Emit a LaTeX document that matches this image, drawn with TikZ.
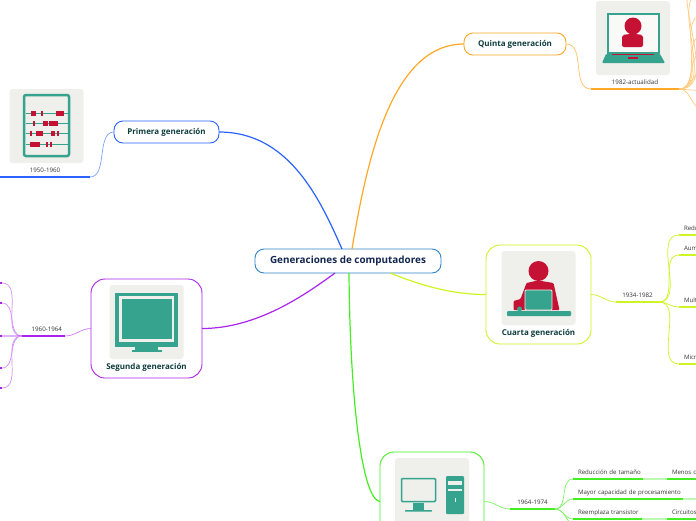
\documentclass[tikz,border=0pt]{standalone}
\usepackage{xcolor}
\usepackage{fontspec}
\setmainfont{Open Sans}
\usepackage{tikz}
\usetikzlibrary{positioning, calc}
\definecolor{azul}{HTML}{2962FF}
\definecolor{morado}{HTML}{AA22EE}
\definecolor{naranja}{HTML}{FFA726}
\definecolor{lima}{HTML}{CCF522}
\definecolor{verde}{HTML}{44EE22}
\definecolor{borde}{HTML}{2F86C8}
\definecolor{textoraiz}{HTML}{12264F}
\definecolor{textogen}{HTML}{0F3D3E}
\definecolor{fondo}{HTML}{EFEFEB}
\definecolor{teal}{HTML}{35A38D}
\definecolor{rojo}{HTML}{C41134}
\tikzstyle{raizbox} = [rectangle, rounded corners=9pt, minimum width=186pt, minimum height=24pt, outer sep=0pt, draw=borde, line width=0.9pt, fill=white, text=textoraiz, font=\fontsize{9.9}{11}\selectfont\bfseries]
\tikzstyle{generacion} = [rectangle, rounded corners=9pt, minimum height=22pt, outer sep=0pt, line width=0.9pt, fill=white, text=textogen, font=\fontsize{8}{9}\selectfont\bfseries]
\tikzstyle{grande} = [generacion, rounded corners=14pt, minimum width=105pt, minimum height=99pt]
\tikzstyle{titulo} = [text=textogen, inner sep=0pt, font=\fontsize{8}{9}\selectfont\bfseries]
\tikzstyle{tile} = [rectangle, rounded corners=3pt, minimum size=74pt, inner sep=0pt, outer sep=0pt, fill=fondo]
\tikzstyle{fecha} = [inner xsep=0pt, inner ysep=0pt, minimum height=12pt, text depth=2pt, outer sep=0pt, text=black!80, font=\fontsize{6.2}{7}\selectfont]
\tikzstyle{tema} = [anchor=south west, inner xsep=5pt, inner ysep=0pt, minimum height=12pt, text depth=2pt, outer sep=0pt, align=left, text=black!80, font=\fontsize{6.1}{7}\selectfont]
\tikzstyle{rama} = [line width=1.2pt]
\tikzstyle{hilo} = [line width=0.7pt]
\tikzstyle{raya} = [line width=1.5pt]
\tikzstyle{palida} = [line width=1.5pt, opacity=0.35]
\hbadness=10000
\hfuzz=100pt

\begin{document}
\begin{tikzpicture}[x=1pt, y=-1pt]
    \clip (0,0) rectangle (696,520);

    % Nodos principales
    \node (raiz) [raizbox] at (348,261) {Generaciones de computadores};
    \node (primera) [generacion, draw=azul, minimum width=105pt] at (166.5,132) {Primera generación};
    \node (quinta) [generacion, draw=naranja, minimum width=102pt] at (515,44) {Quinta generación};
    \node (segunda) [grande, draw=morado, minimum width=111pt] at (146.5,328.5) {};
    \node (cuarta) [grande, draw=lima] at (538.5,294.5) {};
    \node (tercera) [grande, draw=verde, minimum width=104pt] at (432,501.5) {};

    % Imagenes
    \node (imgprimera) [tile] at (46.5,126) {};
    \node (imgsegunda) [tile, below=6pt of segunda.north] {};
    \node (imgquinta) [tile] at (633,38) {};
    \node (imgcuarta) [tile, below=6pt of cuarta.north] {};
    \node (imgtercera) [tile, below=6pt of tercera.north] {};
    \node (titsegunda) [titulo, below=4.5pt of imgsegunda] {Segunda generación};
    \node (titcuarta) [titulo, below=4.5pt of imgcuarta] {Cuarta generación};

    % Abaco
    \begin{scope}[shift={(imgprimera.center)}]
        \draw [teal, line width=2.5pt, rounded corners=2pt] (-22.5,-31) rectangle (22.5,30);
        \foreach \y in {-13,-3,7,18}
            \draw [teal, line width=1pt] (-21,\y) -- (21,\y);
        \foreach \y/\a/\b in {-13/-15.5/-10.5, -13/-5.5/-3.5, -13/9.5/17.5, -3/-13.5/-11.5, -3/-3.5/1.5, -3/2.5/11.5, 7/-16.5/-14.5, 7/-10.5/-3.5, 7/4.5/8.5, 7/10.5/12.5, 18/-16.5/-6.5, 18/-0.5/1.5, 18/3.5/5.5}
            \fill [rojo] (\a,\y-2.5) rectangle (\b,\y+2.5);
    \end{scope}

    % Monitor
    \begin{scope}[shift={(imgsegunda.center)}]
        \fill [teal] (-31.5,-29) rectangle (31.5,25);
        \fill [fondo] (-27.5,-26) rectangle (27.5,20);
        \fill [teal] (-24.5,-23) rectangle (25.5,17);
        \fill [teal] (-11.5,25) rectangle (11.5,28);
        \fill [teal] (-14.5,28) rectangle (15.5,30);
    \end{scope}

    % Portatil con persona
    \begin{scope}[shift={(imgquinta.center)}]
        \draw [teal, line width=2pt, fill=white!60!fondo] (-25,-24) rectangle (26,15);
        \fill [rojo] (0,-12) circle (8.5);
        \fill [rojo, rounded corners=2pt] (-11,9) -- (-11,-3) -- (-3,-4) -- (3,-4) -- (10,-3) -- (10,9) -- cycle;
        \fill [teal, rounded corners=1pt] (-27,16) -- (27,16) -- (32,25) -- (-31,25) -- cycle;
        \fill [rojo] (-21,15.5) rectangle (21,17);
        \fill [rojo] (-5,19) rectangle (5,20.5);
    \end{scope}

    % Persona en escritorio
    \begin{scope}[shift={(imgcuarta.center)}]
        \fill [rojo] (0,-17) circle (10);
        \fill [rojo, rounded corners=1pt] (-12,-5) -- (-3,-7) -- (3,-7) -- (15,-5) -- (21,22) -- (-25,22) -- (-25,13) -- (-18,11) -- cycle;
        \draw [fondo, line width=0.8pt, fill=teal, rounded corners=1pt] (-13.5,2) rectangle (13.5,22);
        \fill [teal] (-19,21) circle (2.5);
        \fill [teal, rounded corners=1pt] (-31.5,23) rectangle (32.5,28);
    \end{scope}

    % Computador de escritorio
    \begin{scope}[shift={(imgtercera.center)}]
        \draw [teal, line width=1.5pt, rounded corners=1pt] (-30.5,-16.5) rectangle (3.5,6.5);
        \fill [teal] (-19,8) rectangle (-8,15);
        \fill [teal, rounded corners=0.5pt] (-27,15) rectangle (0,16.5);
        \fill [teal, rounded corners=1pt] (14,-19) rectangle (32,19);
        \fill [fondo] (16,-14) rectangle (30,-10);
        \fill [fondo] (16,-6) rectangle (30,-4.5);
        \fill [fondo] (22.5,3) rectangle (24,7);
    \end{scope}

    % Fechas
    \node (fecha1) [fecha, minimum width=90pt] at (45,171) {1950-1960};
    \node (fecha2) [fecha, text width=43pt, align=right] at (43.5,330) {1960-1964\hspace*{3pt}};
    \node (fecha3) [fecha, minimum width=88pt] at (635,83) {1982-actualidad};
    \node (fecha4) [fecha, minimum width=43pt] at (637.5,296) {1934-1982};
    \node (fecha5) [fecha, minimum width=45pt] at (532.5,503) {1964-1974};

    % Temas de la derecha
    \node (redu) [tema, text width=20pt] at (679,235) {Redu};
    \node (aum) [tema, text width=20pt] at (679,255) {Aum};
    \node (mult) [tema, text width=20pt] at (679,307) {Mult};
    \node (micr) [tema, text width=20pt] at (679,364) {Micr};
    \node (reduc) [tema, text width=60pt] at (573,479) {\mbox{Reducción de tamaño}};
    \node (menos) [tema, text width=30pt] at (667,479) {Menos c};
    \node (mayor) [tema, text width=100pt] at (573,499) {\mbox{Mayor capacidad de procesamiento}};
    \node (reempl) [tema, text width=59pt] at (573,519) {\mbox{Reemplaza transistor}};
    \node (circ) [tema, text width=30pt] at (667,519) {Circuitos};

    % Extremos libres
    \coordinate (izq1) at (2,283);
    \coordinate (izq2) at (2,303);
    \coordinate (izq3) at (2,336);
    \coordinate (izq4) at (2,368);
    \coordinate (izq5) at (2,388);
    \coordinate (der1) at (704,-30);
    \coordinate (der2) at (704,-8);
    \coordinate (der3) at (704,15);
    \coordinate (der4) at (704,35);
    \coordinate (der5) at (704,52);
    \coordinate (der6) at (704,72);
    \coordinate (der7) at (704,91);
    \coordinate (der8) at (704,110);
    \coordinate (finmayor) at (696,499);
    \coordinate (abajo) at (578,527);

    % Ramas desde la raiz
    \draw [rama, azul] (primera.east) .. controls +(70,0) and +(-22,-50) .. ($(raiz.north)+(-6,0)$);
    \draw [rama, naranja] (quinta.west) .. controls +(-72,0) and +(15,-90) .. ($(raiz.north)+(4,0)$);
    \draw [rama, morado] (segunda.east) .. controls +(55,0) and +(-30,22) .. ($(raiz.south)+(-13,0)$);
    \draw [rama, lima] (cuarta.west) .. controls +(-35,0) and +(30,12) .. ($(raiz.south)+(42,0)$);
    \draw [rama, verde] (tercera.west) .. controls +(-18,-2) and +(1,127) .. ($(raiz.south)+(1,0)$);

    % Subrayados
    \draw [raya, azul] (fecha1.south west) -- (fecha1.south east);
    \draw [raya, morado] (fecha2.south west) -- (fecha2.south east);
    \draw [raya, naranja] (fecha3.south west) -- (fecha3.south east);
    \draw [raya, lima] (fecha4.south west) -- (fecha4.south east);
    \draw [raya, verde] (fecha5.south west) -- (fecha5.south east);
    \draw [raya, lima] (redu.south west) -- (redu.south east);
    \draw [raya, lima] (aum.south west) -- (aum.south east);
    \draw [raya, lima] (mult.south west) -- (mult.south east);
    \draw [raya, lima] (micr.south west) -- (micr.south east);
    \draw [raya, verde] (reduc.south west) -- (reduc.south east);
    \draw [raya, verde] (menos.south west) -- (menos.south east);
    \draw [raya, verde] (mayor.south west) -- (mayor.south east);
    \draw [raya, verde] (reempl.south west) -- (reempl.south east);
    \draw [raya, verde] (circ.south west) -- (circ.south east);
    \draw [palida, verde] (reduc.south east) -- (menos.south west);
    \draw [palida, verde] (mayor.south east) -- (finmayor);
    \draw [palida, verde] (reempl.south east) -- (circ.south west);

    % Conexiones finas
    \draw [hilo, azul!60] (fecha1.south east) to[out=0, in=180, looseness=0.9] (primera.west);
    \draw [hilo, morado!60] (fecha2.south east) to[out=0, in=180] (segunda.west);
    \draw [hilo, naranja!70] (quinta.east) to[out=0, in=180] (fecha3.south west);
    \draw [hilo, lima] (cuarta.east) to[out=0, in=180] (fecha4.south west);
    \draw [hilo, verde!70] (tercera.east) to[out=0, in=180] (fecha5.south west);

    % Ramas de la izquierda
    \draw [hilo, morado!50] (fecha2.south west) to[out=180, in=0] (izq1);
    \draw [hilo, morado!50] (fecha2.south west) to[out=180, in=0] (izq2);
    \draw [palida, morado] (fecha2.south west) -- (izq3);
    \draw [hilo, morado!50] (fecha2.south west) to[out=180, in=0] (izq4);
    \draw [hilo, morado!50] (fecha2.south west) to[out=180, in=0] (izq5);
    \draw [raya, morado] (izq1) -- ++(-4,0);
    \draw [raya, morado] (izq2) -- ++(-4,0);
    \draw [raya, morado] (izq3) -- ++(-4,0);
    \draw [raya, morado] (izq4) -- ++(-4,0);
    \draw [raya, morado] (izq5) -- ++(-4,0);

    % Ramas de la quinta
    \draw [hilo, naranja!60] (fecha3.south east) to[out=0, in=180] (der1);
    \draw [hilo, naranja!60] (fecha3.south east) to[out=0, in=180] (der2);
    \draw [hilo, naranja!60] (fecha3.south east) to[out=0, in=180] (der3);
    \draw [hilo, naranja!60] (fecha3.south east) to[out=0, in=180] (der4);
    \draw [hilo, naranja!60] (fecha3.south east) to[out=0, in=180] (der5);
    \draw [hilo, naranja!60] (fecha3.south east) to[out=0, in=180] (der6);
    \draw [hilo, naranja!60] (fecha3.south east) -- (der7);
    \draw [hilo, naranja!60] (fecha3.south east) to[out=0, in=180] (der8);

    % Ramas de la cuarta
    \draw [hilo, lima] (fecha4.south east) to[out=0, in=180] (redu.south west);
    \draw [hilo, lima] (fecha4.south east) to[out=0, in=180] (aum.south west);
    \draw [hilo, lima] (fecha4.south east) to[out=0, in=180] (mult.south west);
    \draw [hilo, lima] (fecha4.south east) to[out=0, in=180] (micr.south west);

    % Ramas de la tercera
    \draw [hilo, verde!70] (fecha5.south east) to[out=0, in=180] (reduc.south west);
    \draw [hilo, verde!70] (fecha5.south east) to[out=0, in=180] (mayor.south west);
    \draw [hilo, verde!70] (fecha5.south east) to[out=0, in=180] (reempl.south west);
    \draw [hilo, verde!70] (fecha5.south east) to[out=0, in=180] (abajo);
\end{tikzpicture}
\end{document}
